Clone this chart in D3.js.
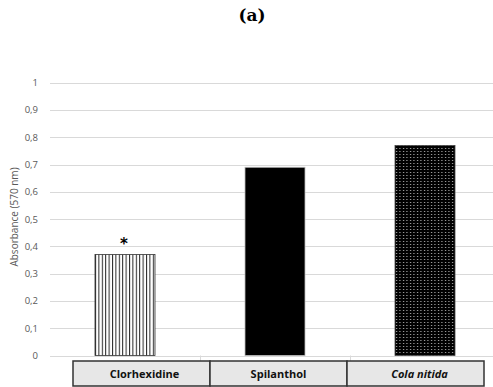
<!DOCTYPE html>
<html><head><meta charset="utf-8">
<script src="https://cdn.jsdelivr.net/npm/d3@7"></script>
<style>body{margin:0;background:#fff}svg{display:block}</style>
</head><body>
<svg id="c" width="493" height="387"></svg>
<script>
const categories = ["Clorhexidine", "Spilanthol", "Cola nitida"];
const values = [0.37, 0.69, 0.77];
const yTicks = [0, 0.1, 0.2, 0.3, 0.4, 0.5, 0.6, 0.7, 0.8, 0.9, 1];
const significance = ["*", "", ""];

const svg = d3.select("#c");
const W = 493, H = 387;
const x = d3.scaleBand().domain(categories).range([50, 500]).paddingInner(0.6).paddingOuter(0.3);
const xs = d3.scaleBand().domain(categories).range([50, 500]);
const y = d3.scaleLinear().domain([0, 1]).range([355.5, 82.7]);

const defs = svg.append("defs");
const p1 = defs.append("pattern").attr("id","vstripe").attr("patternUnits","userSpaceOnUse")
  .attr("width",3.4).attr("height",4).attr("x",95);
p1.append("rect").attr("width",3.4).attr("height",4).attr("fill","#fff");
p1.append("rect").attr("x",0).attr("width",1).attr("height",4).attr("fill","#222");
const p2 = defs.append("pattern").attr("id","dots").attr("patternUnits","userSpaceOnUse")
  .attr("width",3.5).attr("height",3).attr("x",395);
p2.append("rect").attr("width",3.5).attr("height",3).attr("fill","#000");
p2.append("rect").attr("x",1).attr("y",1).attr("width",1).attr("height",1).attr("fill","#d0d0d0");
const fills = ["url(#vstripe)", "#000", "url(#dots)"];
const strokes = ["#333", "#bbb", "#444"];

// title
svg.append("text").attr("x",252).attr("y",21).attr("text-anchor","middle")
  .attr("font-family","DejaVu Serif").attr("font-weight","bold").attr("font-size",17)
  .text("(a)");

// gridlines
const g = svg.append("g");
g.selectAll("line.grid").data(yTicks).join("line")
  .attr("x1",50).attr("x2",W).attr("y1",d=>Math.round(y(d))+0.5).attr("y2",d=>Math.round(y(d))+0.5)
  .attr("stroke","#d9d9d9").attr("stroke-width",1);
g.selectAll("line.sep").data(categories.slice(1)).join("line")
  .attr("x1",d=>xs(d)+0.5).attr("x2",d=>xs(d)+0.5).attr("y1",355.5).attr("y2",361)
  .attr("stroke","#d9d9d9");

// y tick labels
g.selectAll("text.tick").data(yTicks).join("text")
  .attr("x",38).attr("y",d=>y(d)+3.5).attr("text-anchor","end")
  .style("font-family","'Open Sans', sans-serif").attr("font-size",9.5).attr("fill","#595959")
  .text(d=>d3.format(".1f")(d).replace(".",",").replace(/^1,0$/,"1").replace(/^0,0$/,"0"));

svg.append("text").attr("transform","translate(18,217) rotate(-90)").attr("text-anchor","middle")
  .style("font-family","'Open Sans', sans-serif").attr("font-size",10).attr("fill","#595959")
  .text("Absorbance (570 nm)");

// bars
svg.selectAll("rect.bar").data(categories).join("rect")
  .attr("x",d=>x(d)).attr("width",x.bandwidth())
  .attr("y",(d,i)=>y(values[i])).attr("height",(d,i)=>y(0)-y(values[i]))
  .attr("fill",(d,i)=>fills[i]).attr("stroke",(d,i)=>strokes[i]).attr("stroke-width",0.8);

// significance
svg.selectAll("text.sig").data(categories).join("text")
  .attr("x",d=>x(d)+x.bandwidth()/2-1).attr("y",(d,i)=>y(values[i])-6)
  .attr("text-anchor","middle").style("font-family","'DejaVu Sans', sans-serif").attr("font-weight","bold")
  .attr("font-size",15).text((d,i)=>significance[i]);

// table of labels
const tb = d3.scaleBand().domain(categories).range([73, 484]);
const tg = svg.append("g");
tg.selectAll("rect").data(categories).join("rect")
  .attr("x",d=>tb(d)).attr("y",361).attr("width",tb.bandwidth()).attr("height",25)
  .attr("fill","#e7e7e7").attr("stroke","#333").attr("stroke-width",1.5);
tg.selectAll("text").data(categories).join("text")
  .attr("x",(d,i)=>tb(d)+tb.bandwidth()/2+[3,0,4][i]).attr("y",378)
  .attr("text-anchor","middle").style("font-family","'Open Sans', sans-serif").attr("font-weight","bold")
  .attr("font-size",11).attr("fill","#111")
  .attr("font-style",(d,i)=>i===2?"italic":"normal").text(d=>d);
</script>
</body></html>
